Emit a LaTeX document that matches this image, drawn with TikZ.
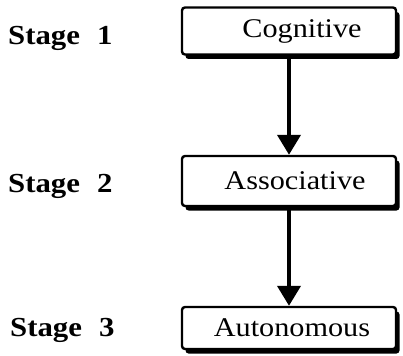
\documentclass[tikz,border=0pt]{standalone}
\usepackage{fontspec}
\setmainfont{Liberation Serif}[FakeStretch=1.12]
\usetikzlibrary{arrows.meta,shadows}
\begin{document}
\begin{tikzpicture}[x=1pt,y=-1pt,
  stagebox/.style={draw, line width=2.4pt, rounded corners=3pt, fill=white,
    minimum width=214pt, inner sep=0pt, font=\fontsize{27}{30}\selectfont,
    drop shadow={shadow xshift=3.5pt, shadow yshift=-4.5pt, fill=black, opacity=1}},
  stagelabel/.style={anchor=base west, inner sep=0pt, font=\fontsize{27.5}{30}\selectfont\bfseries},
  flow/.style={line width=4pt, -{Triangle[width=23pt,length=20pt]}}]
\useasboundingbox (0,0) rectangle (403,355);
\node[stagebox, minimum height=47pt] (cog) at (289,31) {\hspace*{26pt}\raisebox{-2pt}{Cognitive}};
\node[stagebox, minimum height=50pt] (ass) at (289,181) {\hspace*{12pt}\raisebox{-1pt}{Associative}};
\node[stagebox, minimum height=42pt] (aut) at (289,328) {\hspace*{6pt}Autonomous};
\node[stagelabel] (s1) at (8,45) {Stage\hspace{17pt}1};
\node[stagelabel] (s2) at (8,192) {Stage\hspace{17pt}2};
\node[stagelabel] (s3) at (10,336) {Stage\hspace{17pt}3};
\draw[flow] (cog.south) -- (ass.north);
\draw[flow] (ass.south) -- (aut.north);
\end{tikzpicture}
\end{document}
